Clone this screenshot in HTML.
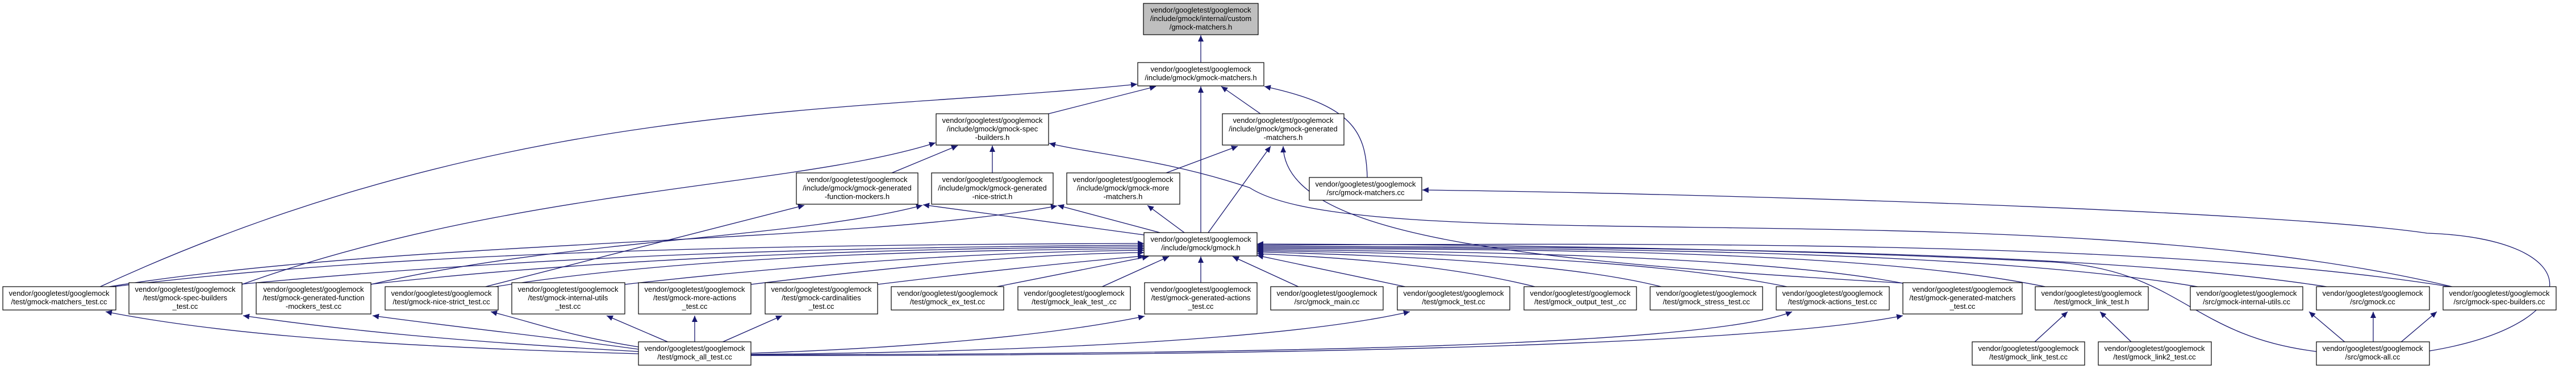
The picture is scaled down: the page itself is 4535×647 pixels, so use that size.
<!DOCTYPE html>
<html><head><meta charset="utf-8"><style>
html,body{margin:0;padding:0;background:#fff;}
svg{display:block;}
text{font-family:"Liberation Sans",sans-serif;font-size:13px;fill:#000;}
.b{fill:#fff;stroke:#000;stroke-width:1.2;}
.e{fill:none;stroke:#191970;stroke-width:1.3;marker-end:url(#a);}
</style></head><body>
<svg width="4535" height="647" viewBox="0 0 4535 647" xmlns="http://www.w3.org/2000/svg">
<defs><marker id="a" markerUnits="userSpaceOnUse" markerWidth="12" markerHeight="10" refX="11" refY="5" orient="auto"><path d="M0,0 L11,5 L0,10 z" fill="#191970"/></marker></defs>

<!-- edges upper -->
<path class="e" d="M2114,110 L2114,62"/>
<path class="e" d="M1846,200 L2035,152"/>
<path class="e" d="M2219,200 L2150,152"/>
<path class="e" d="M2407,312 C2405,230 2380,185 2226,152"/>
<path class="e" d="M2114,409 L2114,152"/>
<path class="e" d="M172,506 C900,170 1500,200 2002,148"/>
<path class="e" d="M1570,304 L1686,256"/>
<path class="e" d="M1747,304 L1747,256"/>
<path class="e" d="M426,500 C900,330 1400,330 1647,251"/>
<path class="e" d="M4325,506 C3600,330 2400,460 2200,330 C2050,280 1920,270 1847,252"/>
<path class="e" d="M2053,304 L2179,257"/>
<path class="e" d="M2127,409 L2237,257"/>
<path class="e" d="M3355,498 C2700,460 2262,420 2259,257"/>
<path class="e" d="M2014,413 L1625,360"/>
<path class="e" d="M653,500 C1000,420 1400,420 1624,361"/>
<path class="e" d="M851,505 L1416,361"/>
<path class="e" d="M2042,409 L1862,361"/>
<path class="e" d="M180,506 C700,420 1500,430 1861,362"/>
<path class="e" d="M2085,409 L2020,361"/>
<path class="e" d="M4277,617 C4560,570 4560,420 4273,410 C4000,370 3000,340 2504,334"/>

<!-- tests to gmock.h -->
<path class="e" d="M185,506 C700,440 1400,430 2014,428"/>
<path class="e" d="M420,500 C1000,445 1500,435 2014,431"/>
<path class="e" d="M650,500 C1100,450 1600,436 2014,434"/>
<path class="e" d="M860,506 C1200,450 1650,440 2014,437"/>
<path class="e" d="M1100,500 C1500,455 1800,442 2014,440"/>
<path class="e" d="M1322,500 C1650,460 1850,446 2014,444"/>
<path class="e" d="M1545,500 C1750,475 1900,460 2014,450"/>
<path class="e" d="M1745,506 L2022,451"/>
<path class="e" d="M1936,506 L2058,451"/>
<path class="e" d="M2114,498 L2114,451"/>
<path class="e" d="M2290,506 L2170,451"/>
<path class="e" d="M2483,506 L2213,449"/>
<path class="e" d="M2710,506 C2550,465 2350,452 2213,446"/>
<path class="e" d="M2932,506 C2750,458 2400,448 2213,443"/>
<path class="e" d="M3155,506 C2900,452 2500,445 2213,441"/>
<path class="e" d="M3350,498 C3100,450 2600,442 2213,439"/>
<path class="e" d="M3610,506 C3300,440 2700,438 2213,437"/>
<path class="e" d="M3880,506 C3500,440 2800,436 2213,435"/>
<path class="e" d="M4108,506 C3700,440 2900,434 2213,433"/>
<path class="e" d="M4325,506 C3800,420 2900,428 2213,431"/>
<path class="e" d="M4078,618 C3850,590 3840,470 3600,460 C3200,440 2700,430 2213,429"/>

<!-- all_test to tests -->
<path class="e" d="M1124,622 C700,610 400,590 186,548"/>
<path class="e" d="M1124,618 C800,600 600,580 428,555"/>
<path class="e" d="M1124,614 C950,590 800,575 656,555"/>
<path class="e" d="M1124,610 C1000,590 950,570 864,548"/>
<path class="e" d="M1180,603 L1068,555"/>
<path class="e" d="M1223,603 L1223,555"/>
<path class="e" d="M1268,603 L1377,555"/>
<path class="e" d="M1322,621 C1600,612 1850,590 2015,556"/>
<path class="e" d="M1322,623 C1900,618 2300,590 2482,548"/>
<path class="e" d="M1322,624 C2200,622 3000,610 3155,548"/>
<path class="e" d="M1322,625 C2300,626 3100,605 3350,555"/>

<!-- bottom right -->
<path class="e" d="M3580,603 L3640,548"/>
<path class="e" d="M3754,603 L3697,548"/>
<path class="e" d="M4130,603 L4065,548"/>
<path class="e" d="M4178,603 L4178,548"/>
<path class="e" d="M4225,603 L4290,548"/>

<!-- nodes -->
<rect x="2013" y="6" width="202" height="55" style="fill:#bfbfbf;stroke:#000;stroke-width:1.2"/>
<text text-anchor="middle"><tspan x="2114" y="22">vendor/googletest/googlemock</tspan><tspan x="2114" y="37">/include/gmock/internal/custom</tspan><tspan x="2114" y="52">/gmock-matchers.h</tspan></text>

<rect class="b" x="2003" y="110" width="222" height="41"/>
<text text-anchor="middle"><tspan x="2114" y="126">vendor/googletest/googlemock</tspan><tspan x="2114" y="141">/include/gmock/gmock-matchers.h</tspan></text>

<rect class="b" x="1648" y="200" width="198" height="55"/>
<text text-anchor="middle"><tspan x="1747" y="216">vendor/googletest/googlemock</tspan><tspan x="1747" y="231">/include/gmock/gmock-spec</tspan><tspan x="1747" y="246">-builders.h</tspan></text>

<rect class="b" x="2152" y="200" width="214" height="55"/>
<text text-anchor="middle"><tspan x="2259" y="216">vendor/googletest/googlemock</tspan><tspan x="2259" y="231">/include/gmock/gmock-generated</tspan><tspan x="2259" y="246">-matchers.h</tspan></text>

<rect class="b" x="1402" y="304" width="214" height="55"/>
<text text-anchor="middle"><tspan x="1509" y="320">vendor/googletest/googlemock</tspan><tspan x="1509" y="335">/include/gmock/gmock-generated</tspan><tspan x="1509" y="350">-function-mockers.h</tspan></text>

<rect class="b" x="1640" y="304" width="214" height="55"/>
<text text-anchor="middle"><tspan x="1747" y="320">vendor/googletest/googlemock</tspan><tspan x="1747" y="335">/include/gmock/gmock-generated</tspan><tspan x="1747" y="350">-nice-strict.h</tspan></text>

<rect class="b" x="1878" y="304" width="199" height="55"/>
<text text-anchor="middle"><tspan x="1977" y="320">vendor/googletest/googlemock</tspan><tspan x="1977" y="335">/include/gmock/gmock-more</tspan><tspan x="1977" y="350">-matchers.h</tspan></text>

<rect class="b" x="2305" y="312" width="198" height="40"/>
<text text-anchor="middle"><tspan x="2404" y="328">vendor/googletest/googlemock</tspan><tspan x="2404" y="343">/src/gmock-matchers.cc</tspan></text>

<rect class="b" x="2014" y="409" width="199" height="41"/>
<text text-anchor="middle"><tspan x="2114" y="425">vendor/googletest/googlemock</tspan><tspan x="2114" y="440">/include/gmock/gmock.h</tspan></text>

<!-- test row -->
<rect class="b" x="5" y="504" width="199" height="41"/>
<text text-anchor="middle"><tspan x="104" y="520">vendor/googletest/googlemock</tspan><tspan x="104" y="535">/test/gmock-matchers_test.cc</tspan></text>
<rect class="b" x="227" y="497" width="199" height="55"/>
<text text-anchor="middle"><tspan x="326" y="513">vendor/googletest/googlemock</tspan><tspan x="326" y="528">/test/gmock-spec-builders</tspan><tspan x="326" y="543">_test.cc</tspan></text>
<rect class="b" x="451" y="497" width="202" height="55"/>
<text text-anchor="middle"><tspan x="552" y="513">vendor/googletest/googlemock</tspan><tspan x="552" y="528">/test/gmock-generated-function</tspan><tspan x="552" y="543">-mockers_test.cc</tspan></text>
<rect class="b" x="678" y="504" width="199" height="41"/>
<text text-anchor="middle"><tspan x="777" y="520">vendor/googletest/googlemock</tspan><tspan x="777" y="535">/test/gmock-nice-strict_test.cc</tspan></text>
<rect class="b" x="901" y="497" width="199" height="55"/>
<text text-anchor="middle"><tspan x="1000" y="513">vendor/googletest/googlemock</tspan><tspan x="1000" y="528">/test/gmock-internal-utils</tspan><tspan x="1000" y="543">_test.cc</tspan></text>
<rect class="b" x="1124" y="497" width="198" height="55"/>
<text text-anchor="middle"><tspan x="1223" y="513">vendor/googletest/googlemock</tspan><tspan x="1223" y="528">/test/gmock-more-actions</tspan><tspan x="1223" y="543">_test.cc</tspan></text>
<rect class="b" x="1347" y="497" width="198" height="55"/>
<text text-anchor="middle"><tspan x="1446" y="513">vendor/googletest/googlemock</tspan><tspan x="1446" y="528">/test/gmock-cardinalities</tspan><tspan x="1446" y="543">_test.cc</tspan></text>
<rect class="b" x="1569" y="504" width="198" height="41"/>
<text text-anchor="middle"><tspan x="1668" y="520">vendor/googletest/googlemock</tspan><tspan x="1668" y="535">/test/gmock_ex_test.cc</tspan></text>
<rect class="b" x="1792" y="504" width="198" height="41"/>
<text text-anchor="middle"><tspan x="1891" y="520">vendor/googletest/googlemock</tspan><tspan x="1891" y="535">/test/gmock_leak_test_.cc</tspan></text>
<rect class="b" x="2015" y="497" width="198" height="55"/>
<text text-anchor="middle"><tspan x="2114" y="513">vendor/googletest/googlemock</tspan><tspan x="2114" y="528">/test/gmock-generated-actions</tspan><tspan x="2114" y="543">_test.cc</tspan></text>
<rect class="b" x="2237" y="504" width="198" height="41"/>
<text text-anchor="middle"><tspan x="2336" y="520">vendor/googletest/googlemock</tspan><tspan x="2336" y="535">/src/gmock_main.cc</tspan></text>
<rect class="b" x="2460" y="504" width="198" height="41"/>
<text text-anchor="middle"><tspan x="2559" y="520">vendor/googletest/googlemock</tspan><tspan x="2559" y="535">/test/gmock_test.cc</tspan></text>
<rect class="b" x="2683" y="504" width="198" height="41"/>
<text text-anchor="middle"><tspan x="2782" y="520">vendor/googletest/googlemock</tspan><tspan x="2782" y="535">/test/gmock_output_test_.cc</tspan></text>
<rect class="b" x="2905" y="504" width="198" height="41"/>
<text text-anchor="middle"><tspan x="3004" y="520">vendor/googletest/googlemock</tspan><tspan x="3004" y="535">/test/gmock_stress_test.cc</tspan></text>
<rect class="b" x="3127" y="504" width="199" height="41"/>
<text text-anchor="middle"><tspan x="3226" y="520">vendor/googletest/googlemock</tspan><tspan x="3226" y="535">/test/gmock-actions_test.cc</tspan></text>
<rect class="b" x="3350" y="497" width="210" height="55"/>
<text text-anchor="middle"><tspan x="3455" y="513">vendor/googletest/googlemock</tspan><tspan x="3455" y="528">/test/gmock-generated-matchers</tspan><tspan x="3455" y="543">_test.cc</tspan></text>
<rect class="b" x="3583" y="504" width="199" height="41"/>
<text text-anchor="middle"><tspan x="3682" y="520">vendor/googletest/googlemock</tspan><tspan x="3682" y="535">/test/gmock_link_test.h</tspan></text>
<rect class="b" x="3856" y="504" width="198" height="41"/>
<text text-anchor="middle"><tspan x="3955" y="520">vendor/googletest/googlemock</tspan><tspan x="3955" y="535">/src/gmock-internal-utils.cc</tspan></text>
<rect class="b" x="4078" y="504" width="199" height="41"/>
<text text-anchor="middle"><tspan x="4177" y="520">vendor/googletest/googlemock</tspan><tspan x="4177" y="535">/src/gmock.cc</tspan></text>
<rect class="b" x="4301" y="504" width="199" height="41"/>
<text text-anchor="middle"><tspan x="4400" y="520">vendor/googletest/googlemock</tspan><tspan x="4400" y="535">/src/gmock-spec-builders.cc</tspan></text>

<!-- bottom row -->
<rect class="b" x="1124" y="601" width="198" height="41"/>
<text text-anchor="middle"><tspan x="1223" y="617">vendor/googletest/googlemock</tspan><tspan x="1223" y="632">/test/gmock_all_test.cc</tspan></text>
<rect class="b" x="3472" y="601" width="198" height="41"/>
<text text-anchor="middle"><tspan x="3571" y="617">vendor/googletest/googlemock</tspan><tspan x="3571" y="632">/test/gmock_link_test.cc</tspan></text>
<rect class="b" x="3694" y="601" width="199" height="41"/>
<text text-anchor="middle"><tspan x="3793" y="617">vendor/googletest/googlemock</tspan><tspan x="3793" y="632">/test/gmock_link2_test.cc</tspan></text>
<rect class="b" x="4078" y="601" width="199" height="41"/>
<text text-anchor="middle"><tspan x="4177" y="617">vendor/googletest/googlemock</tspan><tspan x="4177" y="632">/src/gmock-all.cc</tspan></text>
</svg>
</body></html>
